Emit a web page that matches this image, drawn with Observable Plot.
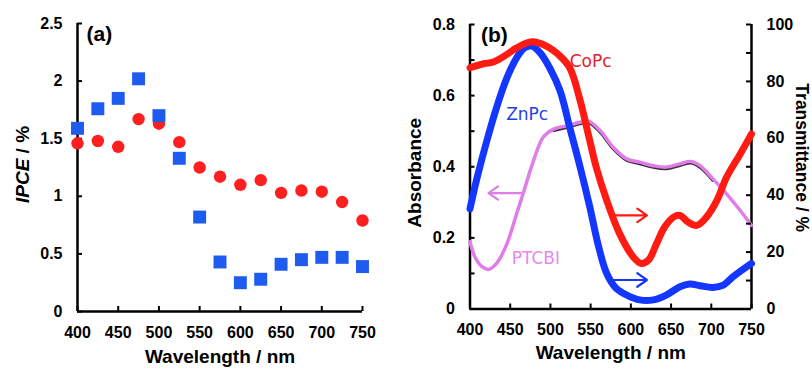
<!DOCTYPE html>
<html><head><meta charset="utf-8">
<script src="https://cdn.jsdelivr.net/npm/d3@7"></script>
<script src="https://cdn.jsdelivr.net/npm/@observablehq/plot@0.6"></script>
<style>
html,body{margin:0;padding:0;background:#fff;}
#wrap{position:relative;width:812px;height:372px;overflow:hidden;}
#wrap svg{position:absolute;top:0;}
</style></head><body><div id="wrap"></div>
<script>
// ---------- Panel (a): IPCE ----------
const wavelengthsA = [400,425,450,475,500,525,550,575,600,625,650,675,700,725,750];
const ipceCoPc = [1.46,1.48,1.43,1.67,1.63,1.47,1.25,1.17,1.10,1.14,1.03,1.05,1.04,0.95,0.79];
const ipceZnPc = [1.59,1.76,1.85,2.02,1.70,1.33,0.82,0.43,0.25,0.28,0.41,0.45,0.47,0.47,0.39];
const xTicks = [400,450,500,550,600,650,700,750];
const yTicksA = [0,0.5,1,1.5,2,2.5];
const yTickLabelsA = ["0","0.5","1","1.5","2","2.5"];

// ---------- Panel (b): spectra ----------
const ptcbiWl = [400,406,415,423,433,446,458,466,479,491,504,520,537,547,562,578,595,611,628,644,661,675,686,702,719,736,750];
const ptcbiAbs = [0.189,0.147,0.119,0.111,0.128,0.184,0.268,0.324,0.417,0.483,0.506,0.515,0.525,0.529,0.501,0.455,0.422,0.413,0.403,0.399,0.408,0.415,0.403,0.366,0.324,0.277,0.235];
const coPcWl = [400,417,429,446,458,477,495,512,524,537,547,557,570,586,603,613,622,632,642,653,661,671,682,694,707,719,736,750];
const coPcT = [84.8,86.2,86.8,89.5,91.8,93.9,92.4,88.9,84.8,73.2,61.5,49.8,38.2,26.5,18.3,16.0,17.2,23.0,28.8,32.3,32.9,30.6,29.4,32.3,38.2,46.3,54.5,61.5];
const znPcWl = [400,408,421,433,446,458,468,477,487,499,512,524,537,549,560,570,582,595,611,628,644,661,673,686,702,715,727,750];
const znPcT = [35.2,45.2,59.2,70.8,81.3,88.3,91.8,92.4,90.1,84.8,76.7,63.8,49.8,35.8,21.8,12.5,7.2,4.9,3.2,3.2,4.9,7.8,8.75,8.2,7.6,8.4,11.3,16.0];
const absTicks = [0,0.2,0.4,0.6,0.8];
const absTickLabels = ["0","0.2","0.4","0.6","0.8"];
const absMinor = [0.1,0.3,0.5,0.7];
const tTicks = [0,20,40,60,80,100];
const tMinor = [10,30,50,70,90];
// annotations
const seriesLabels = ["CoPc","ZnPc","PTCBI"];
const labelPosAbs = {PTCBI:[452,0.142]};
const labelPosT = {CoPc:[524,87], ZnPc:[445,68.5]};
const arrowAbs = [{x1:466,x2:423,y:0.326}];
const arrowT = [{x1:576,x2:620,y:32.9,c:"red"},{x1:576,x2:620,y:10.2,c:"blue"}];

const C = {redDot:"#FF1F1F", blueSq:"#1E5BEF", redLine:"#FF1A12", blueLine:"#1437FF", pink:"#E07DE8", redText:"#E8202A", blueText:"#1F3FE6", pinkText:"#E48AEA"};
const FONT = "'Liberation Sans', Arial, Helvetica, sans-serif";
const ANNOT = "'DejaVu Sans', sans-serif";

const wrap = document.getElementById("wrap");

// Panel (a)
const mA = {top:23, right:44, bottom:61, left:77};
const WA = 406, HA = 372;
const fwA = WA - mA.left - mA.right, fhA = HA - mA.top - mA.bottom;
const dataA = wavelengthsA.map((w,i)=>({w, co:ipceCoPc[i], zn:ipceZnPc[i]}));
const svgA = Plot.plot({
  width: WA, height: HA,
  marginTop: mA.top, marginRight: mA.right, marginBottom: mA.bottom, marginLeft: mA.left,
  x: {domain:[400,750]}, y: {domain:[0,2.5]},
  style: {fontFamily: FONT, fontSize: "16px", fontWeight: "bold", background: "transparent", color: "#000", overflow: "visible"},
  marks: [
    Plot.axisX({ticks: xTicks, tickSize: 0, tickPadding: 15, label: null, tickFormat: d => String(d)}),
    Plot.axisY({ticks: yTicksA, tickSize: 0, tickPadding: 15, label: null, tickFormat: d => yTickLabelsA[yTicksA.indexOf(d)]}),
    Plot.tickX(xTicks, {x: d => d, insetTop: fhA - 5, stroke: "#000", strokeWidth: 2}),
    Plot.tickY(yTicksA, {y: d => d, insetRight: fwA - 5, stroke: "#000", strokeWidth: 2}),
    Plot.ruleX([400], {stroke: "#000", strokeWidth: 2.5}),
    Plot.ruleY([0], {stroke: "#000", strokeWidth: 2.5}),
    Plot.dot(dataA, {x: "w", y: "co", r: 6.2, fill: C.redDot, stroke: null}),
    Plot.dot(dataA, {x: "w", y: "zn", r: 7.3, symbol: "square", fill: C.blueSq, stroke: null}),
    Plot.text(["(a)"], {frameAnchor: "top-left", textAnchor: "start", dx: 9, dy: 3, fontSize: 21, fontWeight: "bold"}),
    Plot.text(["Wavelength / nm"], {frameAnchor: "bottom", textAnchor: "middle", dy: 51, fontSize: 19, fontWeight: "bold"}),
    Plot.text(["IPCE / %"], {frameAnchor: "left", textAnchor: "middle", rotate: -90, dx: -55, dy: -3, fontSize: 19, fontWeight: "bold"})
  ]
});
svgA.style.left = "0px";
wrap.appendChild(svgA);
d3.select(svgA).selectAll("text").filter(function(){return this.textContent === "IPCE / %";}).each(function(){
  const t = d3.select(this); t.text(null);
  t.append("tspan").attr("font-style","italic").text("IPCE");
  t.append("tspan").text(" / %");
});

// Panel (b)
const mB = {top:24, right:61, bottom:63.5, left:63.5};
const WB = 406, HB = 372;
const fwB = WB - mB.left - mB.right, fhB = HB - mB.top - mB.bottom;
const ptcbi = ptcbiWl.map((w,i)=>({w, a:ptcbiAbs[i]}));
const copc = coPcWl.map((w,i)=>({w, t:coPcT[i]}));
const znpc = znPcWl.map((w,i)=>({w, t:znPcT[i]}));
const baseOpts = {
  width: WB, height: HB,
  marginTop: mB.top, marginRight: mB.right, marginBottom: mB.bottom, marginLeft: mB.left,
  style: {fontFamily: FONT, fontSize: "16px", fontWeight: "bold", background: "transparent", color: "#000", overflow: "visible"}
};
const svgB = Plot.plot({
  ...baseOpts,
  x: {domain:[400,750]}, y: {domain:[0,0.8]},
  marks: [
    Plot.axisX({ticks: xTicks, tickSize: 0, tickPadding: 15, label: null, tickFormat: d => String(d)}),
    Plot.axisY({ticks: absTicks, tickSize: 0, tickPadding: 15, label: null, tickFormat: d => absTickLabels[absTicks.indexOf(d)]}),
    Plot.tickX(xTicks, {x: d => d, insetTop: fhB - 5, stroke: "#000", strokeWidth: 2}),
    Plot.tickY(absTicks.concat(absMinor), {y: d => d, insetRight: fwB - 5, stroke: "#000", strokeWidth: 2}),
    Plot.ruleX([400, 750], {stroke: "#000", strokeWidth: 2.5}),
    Plot.ruleY([0], {stroke: "#000", strokeWidth: 2.5}),
    Plot.line(ptcbi.filter(d => d.w >= 495 && d.w <= 705), {x: "w", y: "a", dy: 1.6, stroke: "#3a2d3a", strokeWidth: 3, curve: "catmull-rom"}),
    Plot.line(ptcbi, {x: "w", y: "a", stroke: C.pink, strokeWidth: 3.5, curve: "catmull-rom", strokeLinecap: "round"}),
    Plot.arrow(arrowAbs, {x1: "x1", x2: "x2", y1: "y", y2: "y", stroke: C.pink, strokeWidth: 2.2, headLength: 9, headAngle: 70}),
    Plot.text(["PTCBI"], {x: () => labelPosAbs.PTCBI[0], y: () => labelPosAbs.PTCBI[1], textAnchor: "start", fill: C.pinkText, fontSize: 17, fontWeight: "normal", fontFamily: ANNOT}),
    Plot.text(["(b)"], {frameAnchor: "top-left", textAnchor: "start", dx: 11, dy: 3, fontSize: 21, fontWeight: "bold"}),
    Plot.text(["Wavelength / nm"], {frameAnchor: "bottom", textAnchor: "middle", dy: 49.5, fontSize: 19, fontWeight: "bold"}),
    Plot.text(["Absorbance"], {frameAnchor: "left", textAnchor: "middle", rotate: -90, dx: -55.5, dy: 6, fontSize: 19, fontWeight: "bold"})
  ]
});
svgB.style.left = "406px";
wrap.appendChild(svgB);

const svgB2 = Plot.plot({
  ...baseOpts,
  x: {domain:[400,750], axis: null}, y: {domain:[0,100], axis: null},
  marks: [
    Plot.axisY({anchor: "right", ticks: tTicks, tickSize: 0, tickPadding: 15, label: null, tickFormat: d => String(d)}),
    Plot.tickY(tTicks.concat(tMinor), {y: d => d, insetLeft: fwB - 5, stroke: "#000", strokeWidth: 2}),
    Plot.line(znpc, {x: "w", y: "t", stroke: C.blueLine, strokeWidth: 7, curve: "catmull-rom", strokeLinecap: "round", strokeLinejoin: "round"}),
    Plot.line(copc, {x: "w", y: "t", stroke: C.redLine, strokeWidth: 7, curve: "catmull-rom", strokeLinecap: "round", strokeLinejoin: "round"}),
    Plot.arrow(arrowT, {x1: "x1", x2: "x2", y1: "y", y2: "y", stroke: d => d.c === "red" ? C.redLine : C.blueLine, strokeWidth: 2.2, headLength: 9, headAngle: 70}),
    Plot.text(["CoPc"], {x: () => labelPosT.CoPc[0], y: () => labelPosT.CoPc[1], textAnchor: "start", fill: C.redText, fontSize: 17, fontWeight: "normal", fontFamily: ANNOT}),
    Plot.text(["ZnPc"], {x: () => labelPosT.ZnPc[0], y: () => labelPosT.ZnPc[1], textAnchor: "start", fill: C.blueText, fontSize: 17, fontWeight: "normal", fontFamily: ANNOT}),
    Plot.text(["Transmittance / %"], {frameAnchor: "right", textAnchor: "middle", rotate: 90, dx: 50, dy: -9, fontSize: 17.5, fontWeight: "bold"})
  ]
});
svgB2.style.left = "406px";
wrap.appendChild(svgB2);
</script></body></html>
